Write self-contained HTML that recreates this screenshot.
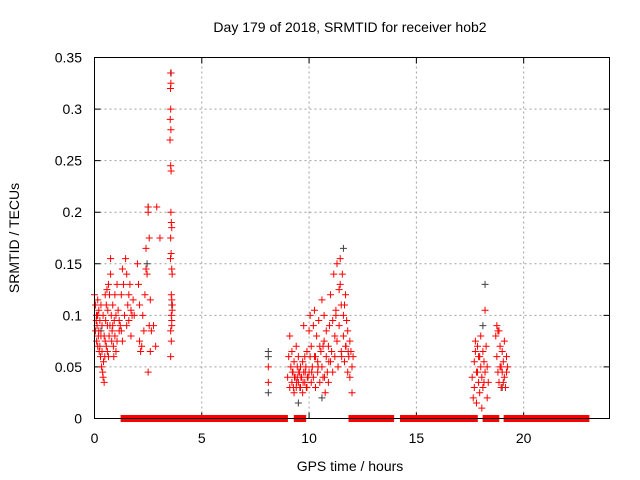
<!DOCTYPE html>
<html><head><meta charset="utf-8"><style>
body{margin:0;background:#fff;}
svg{display:block;font-family:"Liberation Sans",sans-serif;}
</style></head><body>
<svg id="chart" width="640" height="480" xmlns="http://www.w3.org/2000/svg">
<rect width="640" height="480" fill="#fff"/>
<text x="350" y="32" font-size="14" text-anchor="middle">Day 179 of 2018, SRMTID for receiver hob2</text>
<text x="350" y="471" font-size="14" text-anchor="middle">GPS time / hours</text>
<text transform="translate(19,238) rotate(-90)" font-size="14" text-anchor="middle">SRMTID / TECUs</text>
<g id="grid"></g><g id="ticks"></g><g id="marks"></g>
<rect x="94.5" y="57.5" width="515" height="361" fill="none" stroke="#000" stroke-width="1"/>
</svg>
<script>
const xTicks=[0,5,10,15,20];
const yTicks=[0,0.05,0.1,0.15,0.2,0.25,0.3,0.35];
const yTickLabels=["0","0.05","0.1","0.15","0.2","0.25","0.3","0.35"];
const zeroRanges=[[1.38,1.56],[1.8,2.26],[2.3,2.6],[2.67,3.42],[3.7,8.1],[8.2,8.85],[9.45,9.7],[12.0,13.8],[14.4,17.7],[18.25,18.7],[19.23,22.9]];
const redTimes=[0,0.05,0.08,0.1,0.12,0.15,0.15,0.18,0.2,0.2,0.22,0.25,0.28,0.3,0.3,0.33,0.35,0.38,0.4,0.4,0.42,0.45,0.48,0.5,0.5,0.52,0.55,0.58,0.6,0.6,0.62,0.65,0.68,0.7,0.72,0.75,0.75,0.78,0.8,0.82,0.85,0.88,0.9,0.92,0.95,0.95,1.0,1.0,1.05,1.1,1.15,1.2,1.25,1.3,1.3,1.35,1.4,1.45,1.5,1.5,1.55,1.6,1.6,1.65,1.7,1.7,1.75,1.8,1.85,0.1,0.05,0.15,0.25,0.35,0.45,0.55,0.65,0.85,1.05,1.15,1.25,
2.0,2.05,2.1,2.1,2.15,2.2,2.25,2.3,2.35,2.4,2.4,2.45,2.5,2.5,2.55,2.5,2.55,2.6,2.6,2.65,2.85,2.9,3.05,2.75,
3.55,3.56,3.54,3.55,3.53,3.56,3.52,3.55,3.57,3.56,3.58,3.6,3.55,3.57,3.54,3.6,3.62,3.58,3.6,3.63,3.58,3.6,3.55,3.58,3.55,3.6,3.62,
8.1,8.1,
9.0,9.05,9.1,9.1,9.15,9.2,9.2,9.25,9.3,9.3,9.35,9.4,9.4,9.45,9.5,9.5,9.55,9.6,9.6,9.65,9.7,9.7,9.75,9.8,9.8,9.85,9.9,9.9,9.95,10.0,10.0,10.05,10.05,10.1,10.1,10.15,10.2,10.2,10.25,10.3,10.3,10.35,10.4,10.4,10.45,10.5,10.5,10.55,10.6,10.6,10.65,10.7,10.7,10.75,10.8,10.8,10.85,10.9,10.9,10.95,11.0,11.0,11.05,11.1,11.1,11.15,11.2,11.2,11.25,11.3,11.3,11.35,11.4,11.4,11.45,11.5,11.5,11.55,11.6,11.6,11.65,11.7,11.7,11.75,11.8,11.8,11.85,11.9,11.9,11.95,12.0,12.0,12.05,9.15,9.45,9.75,10.25,10.65,11.25,11.45,11.65,
9.22,9.32,9.42,9.52,9.62,9.72,9.82,9.92,9.27,9.57,9.87,10.12,10.42,10.72,10.92,11.52,11.72,11.82,
17.6,17.65,17.7,17.7,17.75,17.8,17.8,17.85,17.9,17.9,17.95,18.0,18.0,18.05,18.1,18.1,18.15,18.2,18.2,18.25,18.3,18.3,18.35,17.75,17.85,17.95,18.05,18.15,
18.7,18.75,18.75,18.8,18.85,18.85,18.9,18.9,18.95,19.0,19.0,19.05,19.1,19.1,19.15,19.2,19.2,19.25,18.8,18.95,19.05];
const redValues=[0.12,0.085,0.095,0.075,0.09,0.1,0.07,0.08,0.085,0.105,0.065,0.095,0.06,0.11,0.08,0.05,0.09,0.045,0.04,0.1,0.055,0.035,0.06,0.12,0.075,0.095,0.11,0.125,0.065,0.09,0.105,0.13,0.08,0.12,0.09,0.14,0.155,0.1,0.075,0.085,0.11,0.07,0.06,0.095,0.12,0.08,0.1,0.065,0.13,0.105,0.085,0.09,0.12,0.145,0.075,0.13,0.1,0.155,0.09,0.14,0.11,0.12,0.095,0.13,0.105,0.08,0.1,0.115,0.1,0.1,0.11,0.115,0.07,0.065,0.08,0.07,0.06,0.09,0.075,0.095,0.085,
0.15,0.13,0.11,0.075,0.065,0.07,0.1,0.085,0.12,0.145,0.165,0.14,0.2,0.205,0.175,0.045,0.09,0.115,0.065,0.085,0.07,0.205,0.175,0.09,
0.335,0.325,0.32,0.3,0.29,0.28,0.27,0.245,0.24,0.2,0.19,0.185,0.175,0.16,0.155,0.145,0.14,0.12,0.115,0.11,0.1,0.09,0.085,0.075,0.06,0.095,0.105,
0.05,0.035,
0.04,0.06,0.03,0.08,0.05,0.035,0.065,0.045,0.025,0.055,0.04,0.03,0.07,0.05,0.035,0.06,0.045,0.03,0.05,0.04,0.025,0.055,0.045,0.035,0.06,0.05,0.03,0.065,0.04,0.045,0.085,0.06,0.1,0.035,0.07,0.05,0.09,0.04,0.105,0.06,0.03,0.08,0.055,0.045,0.095,0.07,0.035,0.065,0.05,0.115,0.04,0.075,0.1,0.025,0.06,0.085,0.045,0.07,0.035,0.09,0.055,0.12,0.065,0.095,0.045,0.14,0.08,0.06,0.105,0.15,0.075,0.05,0.125,0.09,0.155,0.065,0.11,0.14,0.08,0.1,0.055,0.12,0.07,0.095,0.045,0.085,0.06,0.075,0.04,0.065,0.05,0.025,0.06,0.05,0.04,0.09,0.06,0.07,0.1,0.13,0.11,
0.045,0.04,0.035,0.045,0.04,0.035,0.045,0.04,0.03,0.03,0.03,0.045,0.05,0.04,0.055,0.06,0.07,0.065,
0.04,0.02,0.055,0.03,0.065,0.045,0.015,0.07,0.035,0.06,0.025,0.05,0.08,0.04,0.065,0.03,0.055,0.105,0.045,0.07,0.02,0.05,0.035,0.075,0.045,0.06,0.01,0.035,
0.08,0.09,0.06,0.045,0.085,0.035,0.07,0.05,0.03,0.065,0.045,0.055,0.04,0.075,0.03,0.06,0.045,0.05,0.085,0.05,0.035];
const blackTimes=[0.1,0.3,2.5,2.45,3.57,3.6,8.1,8.1,8.1,9.5,10.6,11.6,18.2,18.1,19.0];
const blackValues=[0.1,0.085,0.205,0.15,0.335,0.11,0.065,0.06,0.025,0.015,0.02,0.165,0.13,0.09,0.03];

const NS="http://www.w3.org/2000/svg";
const X0=94.5,X1=609.5,Y0=418.5,Y1=57.5;
const xs=t=>X0+(t/24)*(X1-X0);
const ys=v=>Y0-(v/0.35)*(Y0-Y1);
function mk(tag,attrs,parent){const e=document.createElementNS(NS,tag);for(const k in attrs)e.setAttribute(k,attrs[k]);parent.appendChild(e);return e;}
const grid=document.getElementById('grid'),ticks=document.getElementById('ticks'),marks=document.getElementById('marks');
xTicks.forEach((t,i)=>{
  const x=xs(t);
  if(t>0){const g=mk('line',{x1:x,x2:x,y1:Y0,y2:Y1,stroke:'#a0a0a0','stroke-dasharray':'2,3'},grid);
  
  }
  const tk=mk('path',{d:`M${x},${Y0}v-6M${x},${Y1}v6`,stroke:'#000'},ticks);
  
  
  const l=mk('text',{x:x,y:443,'font-size':14,'text-anchor':'middle'},ticks);l.textContent=String(t);
  
  
});
yTicks.forEach((v,i)=>{
  const y=ys(v);
  if(v>0&&v<0.35){const g=mk('line',{x1:X0,x2:X1,y1:y,y2:y,stroke:'#a0a0a0','stroke-dasharray':'2,3'},grid);
  
  }
  const tk=mk('path',{d:`M${X0},${y}h6M${X1},${y}h-6`,stroke:'#000'},ticks);
  
  
  const l=mk('text',{x:82,y:y+5,'font-size':14,'text-anchor':'end'},ticks);l.textContent=yTickLabels[i];
  
  
});
let bd='';
blackTimes.forEach((t,i)=>{const x=xs(t),y=ys(blackValues[i]);bd+=`M${x-3.5},${y}h7M${x},${y-3.5}v7`;});
const bp=mk('path',{d:bd,stroke:'#404040','stroke-width':1,fill:'none'},marks);


let rd='';
redTimes.forEach((t,i)=>{const x=xs(t),y=ys(redValues[i]);rd+=`M${x-3.5},${y}h7M${x},${y-3.5}v7`;});
const rp=mk('path',{d:rd,stroke:'#ff0000','stroke-width':1,fill:'none'},marks);


zeroRanges.forEach(r=>{
  const z=mk('rect',{x:xs(r[0])-3.5,y:ys(0)-3.5,width:xs(r[1])-xs(r[0])+7,height:7,fill:'#ff0000'},marks);
  
  
});
</script>
</body></html>
